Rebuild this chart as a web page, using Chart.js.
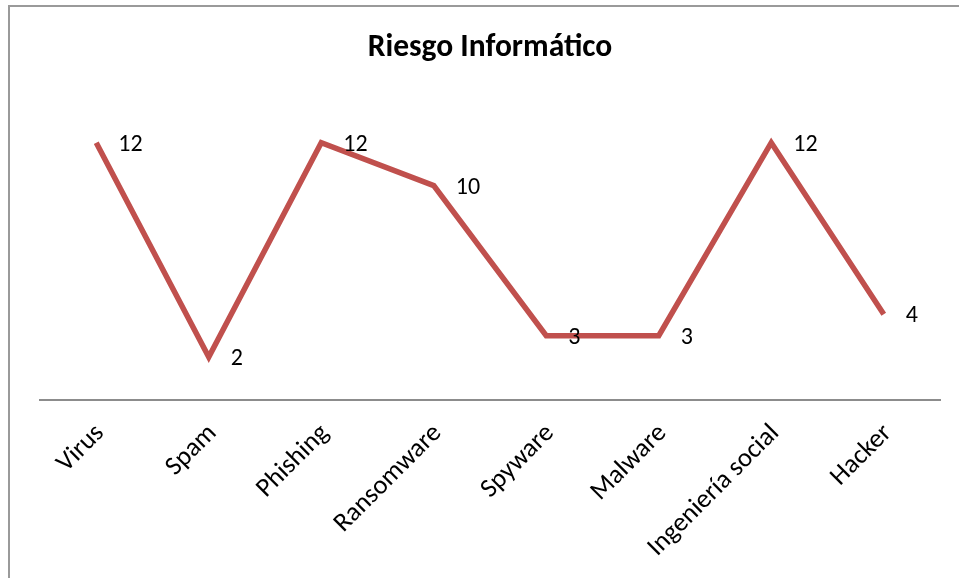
<!DOCTYPE html>
<html>
<head>
<meta charset="utf-8">
<script src="https://cdn.jsdelivr.net/npm/chart.js@4/dist/chart.umd.min.js"></script>
<style>
  html, body { margin: 0; padding: 0; background: #fff; overflow: hidden; }
  #marco {
    position: absolute; left: 8px; top: 5px; width: 1000px; height: 650px;
    border-left: 2px solid #9a9a9a; border-top: 2px solid #9a9a9a;
  }
  #contenedor { position: absolute; left: 0; top: 0; width: 959px; height: 578px; }
</style>
</head>
<body>
<div id="marco"></div>
<div id="contenedor"><canvas id="grafico"></canvas></div>
<script>
var categorias = ["Virus", "Spam", "Phishing", "Ransomware", "Spyware", "Malware", "Ingeniería social", "Hacker"];
var valores = [12, 2, 12, 10, 3, 3, 12, 4];
var titulo = "Riesgo Informático";

var fuente = "Carlito, Calibri, Lato, sans-serif";

// etiquetas de valor a la derecha de cada punto
const etiquetas = {
  id: "etiquetas",
  afterDatasetsDraw(chart) {
    const ctx = chart.ctx;
    const meta = chart.getDatasetMeta(0);
    ctx.save();
    ctx.font = "24px " + fuente;
    ctx.fillStyle = "#000";
    ctx.textAlign = "left";
    ctx.textBaseline = "middle";
    meta.data.forEach((punto, i) => {
      ctx.fillText(chart.data.datasets[0].data[i], punto.x + 22, punto.y + 2);
    });
    ctx.restore();
  },
};

function geraGrafico() {
  const ctx = document.getElementById("grafico");

  const data = {
    labels: categorias,
    datasets: [
      {
        label: titulo,
        data: valores,
        borderColor: "#C0504D",
        backgroundColor: "#C0504D",
        borderWidth: 5.5,
        pointRadius: 0,
        tension: 0,
      },
    ],
  };

  const config = {
    type: "line",
    data: data,
    options: {
      responsive: false,
      animation: false,
      layout: { padding: { left: 40, right: 19, top: 0, bottom: 0 } },
      plugins: {
        legend: { display: false },
        tooltip: { enabled: false },
        title: {
          display: true,
          text: titulo,
          color: "#000",
          font: { family: fuente, size: 31.5, weight: "bold" },
          padding: { top: 29, bottom: 33 },
        },
      },
      scales: {
        x: {
          offset: true,
          grid: { display: false },
          border: { display: true, color: "#8c8c8c", width: 2 },
          ticks: {
            color: "#000",
            font: { family: fuente, size: 26.5 },
            minRotation: 45,
            maxRotation: 45,
            autoSkip: false,
            padding: 10,
            labelOffset: 4,
          },
          afterFit: (scale) => {
            scale.height = 178;
          },
        },
        y: {
          display: false,
          min: 0,
          max: 14,
        },
      },
    },
    plugins: [etiquetas],
  };

  new Chart(ctx, config);
}

var lienzo = document.getElementById("grafico");
lienzo.width = 959;
lienzo.height = 578;
geraGrafico();
</script>
</body>
</html>
